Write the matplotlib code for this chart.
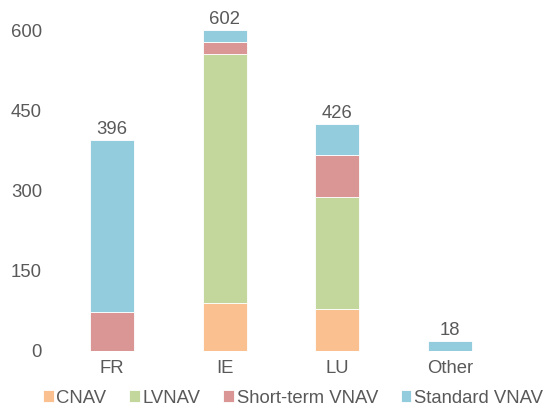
import matplotlib.pyplot as plt
import numpy as np

plt.rcParams['font.family'] = ['Liberation Sans', 'DejaVu Sans']

# datos
paises = ['FR', 'IE', 'LU', 'Other']
cnav = [0, 90, 78, 0]
lvnav = [0, 467, 210, 0]
short_vnav = [72, 23, 80, 0]
standard_vnav = [324, 22, 58, 18]
totales = [396, 602, 426, 18]
series = ['CNAV', 'LVNAV', 'Short-term VNAV', 'Standard VNAV']
colores = ['#FAC090', '#C3D69B', '#D99694', '#93CDDD']
gris = '#595959'
tam = 13.3

fig = plt.figure(figsize=(5.51, 4.07), dpi=100)
# area del grafico en pixeles: x 55.7..506.5, y 0..350.7
ax = fig.add_axes([55.7 / 551, (407 - 350.7) / 407, (506.5 - 55.7) / 551, 350.7 / 407])

x = np.arange(len(paises))
base = np.zeros(len(paises))
for nombre, valores, color in zip(series, [cnav, lvnav, short_vnav, standard_vnav], colores):
    ax.bar(x, valores, 0.39, bottom=base, color=color, label=nombre,
           edgecolor='white', linewidth=0.6)
    base = base + np.array(valores)

for xi, t in zip(x, totales):
    ax.text(xi, t + 4, str(t), ha='center', va='bottom', fontsize=tam, color=gris)

ax.set_xlim(-0.5, 3.5)
ax.set_ylim(0, 658)
ax.set_yticks([0, 150, 300, 450, 600])
ax.set_xticks(x)
ax.set_xticklabels(paises)
for s in ax.spines.values():
    s.set_visible(False)
ax.tick_params(length=0, labelsize=tam, labelcolor=gris)
ax.tick_params(axis='y', pad=9.9)
ax.tick_params(axis='x', pad=7)

fig.legend(loc='center', bbox_to_anchor=(0.532, 0.022), ncol=4, frameon=False,
           fontsize=tam, labelcolor=gris, handlelength=0.57, handleheight=0.57,
           handletextpad=0.14, columnspacing=1.24, borderaxespad=0, borderpad=0)

plt.savefig('out.png', dpi=100)
